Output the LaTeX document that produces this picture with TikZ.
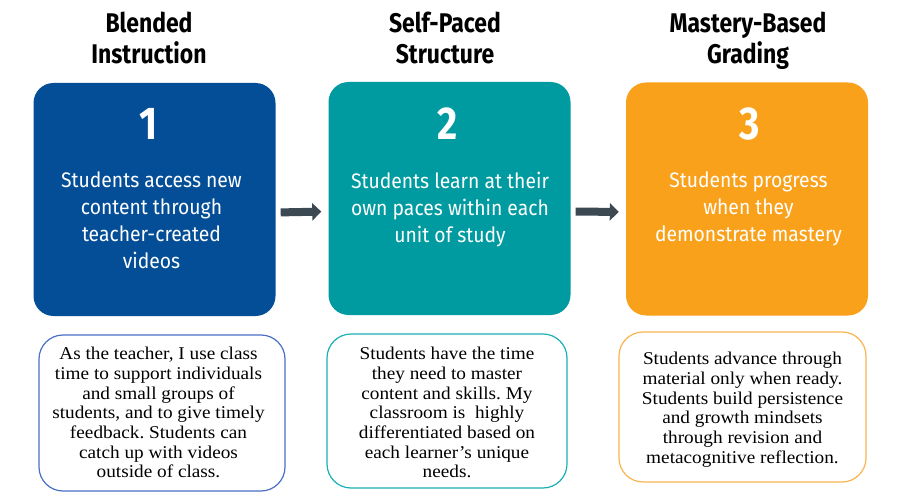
\documentclass[tikz,border=0pt]{standalone}
\usepackage{fontspec}
\usetikzlibrary{arrows.meta}

\newfontfamily\headfont[FakeStretch=0.85]{Fira Sans}
\newfontfamily\cardfont[FakeStretch=0.92]{Fira Sans}
\newfontfamily\notefont[FakeStretch=1.07]{Liberation Serif}
\frenchspacing

\definecolor{blendblue}{RGB}{4,78,151}
\definecolor{paceteal}{RGB}{0,155,160}
\definecolor{masteryorange}{RGB}{250,161,27}
\definecolor{arrowgray}{RGB}{60,72,82}
\definecolor{blendline}{RGB}{74,112,196}
\definecolor{paceline}{RGB}{25,176,184}
\definecolor{masteryline}{RGB}{250,180,80}

\tikzset{
  card/.style={minimum width=242pt, minimum height=233pt, rounded corners=20pt, inner sep=0pt},
  note/.style={draw, line width=1.2pt, rounded corners=24pt, fill=white, inner sep=0pt},
  heading/.style={align=center, anchor=north, inner sep=0pt,
    font=\headfont\bfseries\fontsize{27}{31}\selectfont},
  numeral/.style={text=white, inner sep=0pt, font=\headfont\bfseries\fontsize{46}{46}\selectfont},
  cardtext/.style={text=white, align=center, anchor=north, inner sep=0pt,
    font=\cardfont\fontsize{21}{27}\selectfont},
  notetext/.style={align=center, anchor=north, inner sep=0pt,
    font=\notefont\fontsize{18}{19.7}\selectfont},
  flow/.style={draw=arrowgray, line width=8pt, -{Triangle[length=9pt,width=17pt]},
    shorten <=5pt, shorten >=7pt}
}

\begin{document}
\begin{tikzpicture}[x=1pt,y=-1pt]
  \useasboundingbox[fill=white] (0,0) rectangle (898,500);

  % headings
  \node[heading] (h1) at (149,12) {Blended\\Instruction};
  \node[heading] (h2) at (445,12) {Self-Paced\\Structure};
  \node[heading] (h3) at (748,12) {Mastery-Based\\Grading};

  % coloured cards
  \node[card, fill=blendblue] (b1) at (154.5,199.5) {};
  \node[card, fill=paceteal] (b2) at (449.5,198.5) {};
  \node[card, fill=masteryorange] (b3) at (747,199) {};

  \node[numeral] (n1) at (149,124) {1};
  \node[numeral] (n2) at (448,124) {2};
  \node[numeral] (n3) at (750,124) {3};

  \node[cardtext] (t1) at (151.5,171.5) {Students access new\\content through\\teacher-created\\videos};
  \node[cardtext] (t2) at (450,172) {Students learn at their\\own paces within each\\unit of study};
  \node[cardtext] (t3) at (748.5,172) {Students progress\\when they\\demonstrate mastery};

  \draw[flow] ([yshift=-13pt]b1.east) -- ([yshift=-13pt]b2.west);
  \draw[flow] ([yshift=-13pt]b2.east) -- ([yshift=-13pt]b3.west);

  % notes below
  \node[note, draw=blendline, minimum width=246pt, minimum height=156pt] (m1) at (162,413) {};
  \node[note, draw=paceline, minimum width=240pt, minimum height=154pt] (m2) at (447,411) {};
  \node[note, draw=masteryline, minimum width=247pt, minimum height=150pt] (m3) at (742.5,407) {};

  \node[notetext] (p1) at (158.5,347) {As the teacher, I use class\\time to support individuals\\and small groups of\\students, and to give timely\\feedback. Students can\\catch up with videos\\outside of class.};
  \node[notetext] (p2) at (447,347) {Students have the time\\they need to master\\content and skills. My\\classroom is~ highly\\differentiated based on\\each learner’s unique\\needs.};
  \node[notetext] (p3) at (742.5,352) {Students advance through\\material only when ready.\\Students build persistence\\and growth mindsets\\through revision and\\metacognitive reflection.};
\end{tikzpicture}
\end{document}
